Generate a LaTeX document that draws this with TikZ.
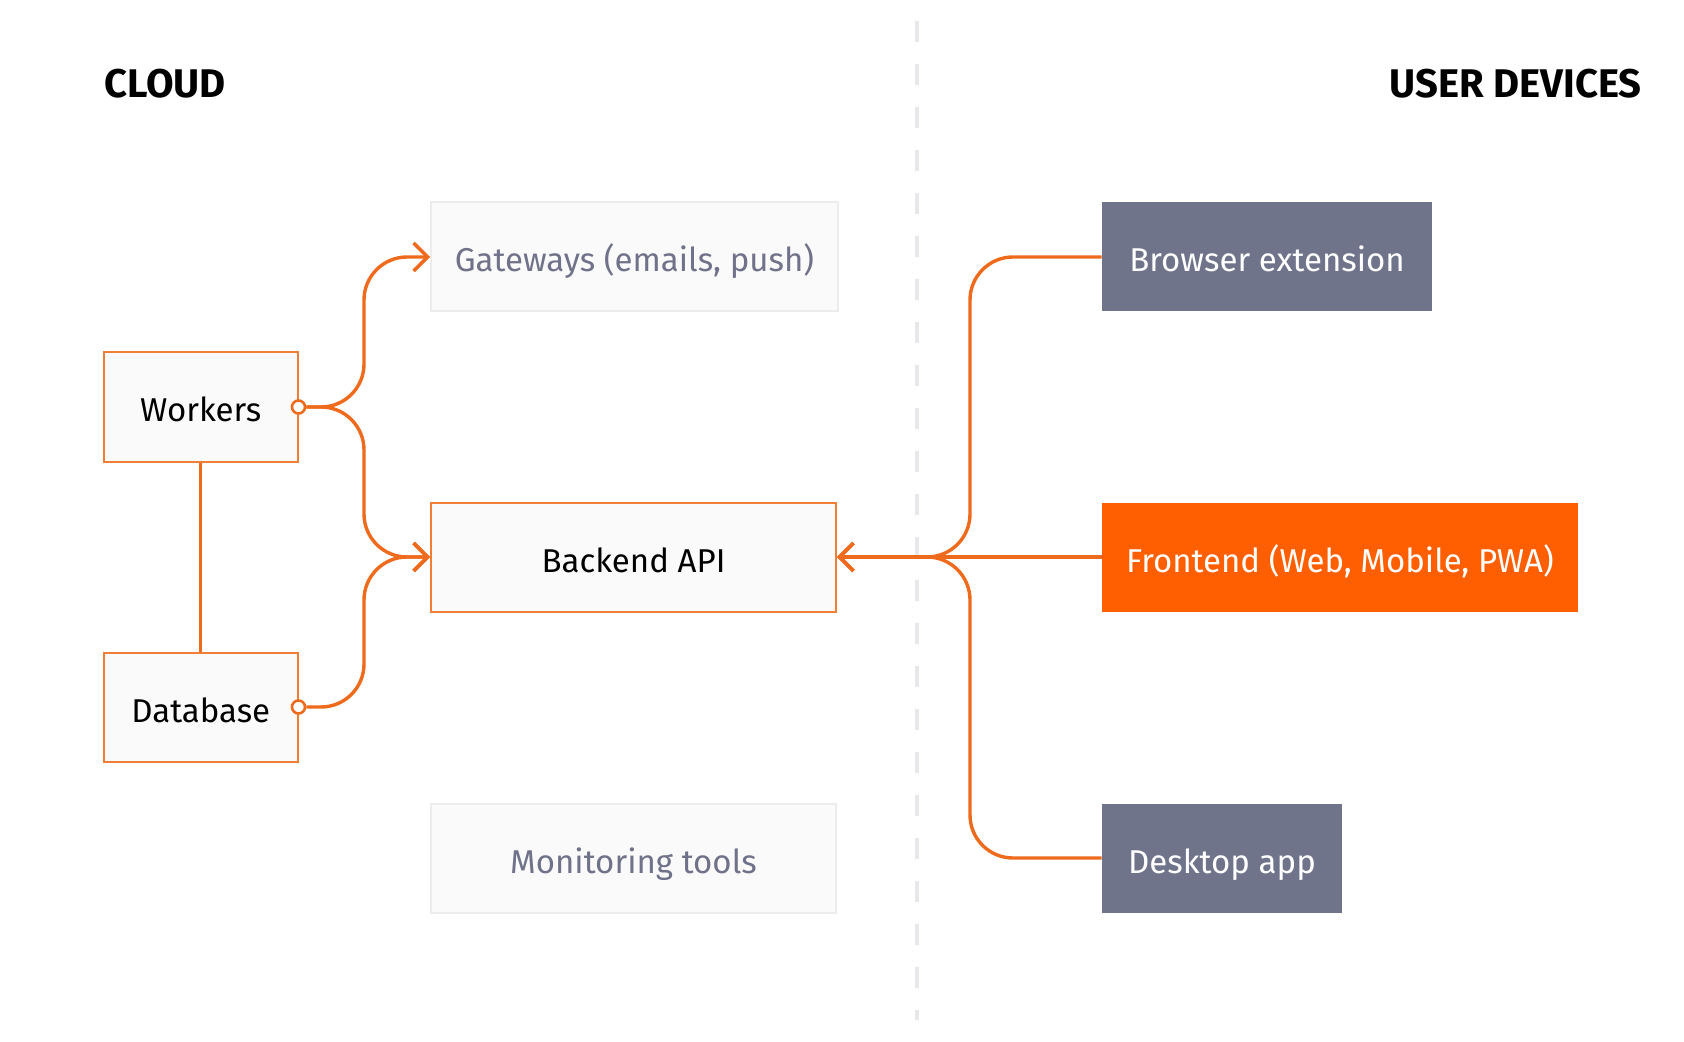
\documentclass[tikz,border=0pt]{standalone}
\usepackage{fontspec}
\setmainfont{Fira Sans}
\usetikzlibrary{arrows.meta}
\definecolor{orng}{HTML}{EE6A1C}
\definecolor{bord}{HTML}{F07F35}
\definecolor{fnt}{HTML}{FF5F00}
\definecolor{slate}{HTML}{6F748B}
\definecolor{gtext}{HTML}{6F7288}
\definecolor{gfill}{HTML}{FAFAFB}
\definecolor{gbord}{HTML}{ECECEF}
\definecolor{divc}{HTML}{E8E8EA}
\begin{document}
\begin{tikzpicture}[x=0.5pt,y=-0.5pt,
  box/.style={rectangle, inner sep=0pt, minimum height=54.5pt, text height=15pt, text depth=0pt, font=\fontsize{16.5}{19}\selectfont, align=center},
  cloudbox/.style={box, draw=bord, line width=1pt, fill=gfill, text=black},
  ghost/.style={box, draw=gbord, line width=1pt, fill=gfill, text=gtext},
  devbox/.style={box, fill=slate, text=white},
  front/.style={box, fill=fnt, text=white},
  heading/.style={inner sep=0pt, font=\fontsize{20}{24}\selectfont\bfseries, text=black},
  link/.style={draw=orng, line width=1.7pt, rounded corners=21.5pt},
  tip/.style={-{Straight Barb[length=7pt,width=14pt]}},
  dotn/.style={circle, draw=orng, fill=white, line width=1.3pt, minimum size=6.5pt, inner sep=0pt},
  divider/.style={draw=divc, line width=1.6pt, dash pattern=on 10.5pt off 11pt}
]
\fill[white] (0,0) rectangle (1684,1042);
\useasboundingbox (0,0) rectangle (1684,1042);

% divider
\draw[divider] (917,21) -- (917,1020);

% headings
\node[heading, anchor=west] (hcloud) at (104,84) {CLOUD};
\node[heading, anchor=east] (hdev) at (1642,84) {USER DEVICES};

% boxes
\node[ghost, minimum width=203.5pt] (gw) at (634.5,257) {Gateways (emails, push)};
\node[cloudbox, minimum width=96.75pt] (wk) at (200.75,407) {Workers};
\node[cloudbox, minimum width=202.5pt] (be) at (633.5,557) {Backend API};
\node[cloudbox, minimum width=96.75pt] (db) at (200.75,707) {Database};
\node[ghost, minimum width=202.5pt] (mon) at (633.5,858) {Monitoring tools};
\node[devbox, minimum width=165pt] (br) at (1267,257) {Browser extension};
\node[front, minimum width=238pt] (fe) at (1340,557) {Frontend (Web, Mobile, PWA)};
\node[devbox, minimum width=120pt] (dk) at (1222,858) {Desktop app};

% bus coordinates
\coordinate (lb) at (364,0);
\coordinate (rb) at (970,0);

% left connectors
\draw[link] (wk.south) -- (db.north);
\node[dotn] (wd) at (wk.east) {};
\node[dotn] (dd) at (db.east) {};
\draw[link, tip] (wd.east) -- (wd.east -| lb) |- (gw.west);
\draw[link, tip] (wd.east) -- (wd.east -| lb) |- (be.west);
\draw[link, tip] (dd.east) -- (dd.east -| lb) |- (be.west);

% right connectors
\draw[link, tip] (br.west) -- (br.west -| rb) |- (be.east);
\draw[link, tip] (dk.west) -- (dk.west -| rb) |- (be.east);
\draw[link, tip] (fe.west) -- (be.east);
\end{tikzpicture}
\end{document}
